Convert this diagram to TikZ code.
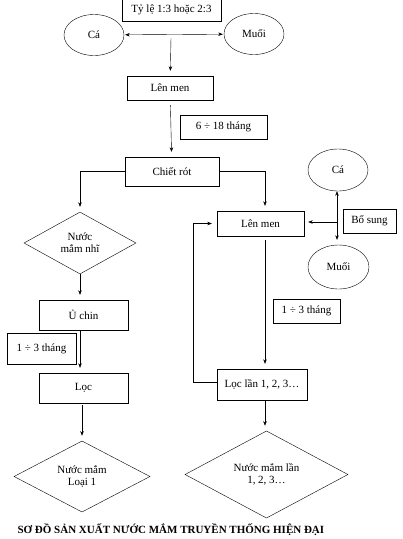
\documentclass[tikz,border=0pt]{standalone}
\usepackage{fontspec}
\setmainfont{Liberation Serif}
\usetikzlibrary{arrows.meta, positioning, shapes.geometric}

\begin{document}
\begin{tikzpicture}[
            x=1pt, y=-1pt,
            font=\fontsize{11pt}{12pt}\selectfont,
            stepbox/.style={draw, thin, rectangle, inner sep=2pt},
            input/.style={draw, thin, ellipse, minimum width=60pt, minimum height=41pt, inner sep=0pt},
            product/.style={draw, thin, diamond, inner sep=0pt, align=center},
            flow/.style={draw, thin, -{Stealth[length=4.5pt, width=3.5pt]}, shorten >=5pt},
            note/.style={stepbox, minimum height=24pt}
        ]

            \useasboundingbox (0,0) rectangle (403,539);

            % Top: raw materials
            \node[stepbox, minimum width=99pt, minimum height=23pt] (ratio) at (171.5,10) {Tỷ lệ 1:3 hoặc 2:3};
            \node[input] (ca1) at (94,35) {Cá};
            \node[input] (muoi1) at (254,34) {Muối};
            \coordinate (mix) at (171,38);

            % Main line
            \node[stepbox, minimum width=86pt, minimum height=24pt] (men1) at (170,88) {Lên men};
            \node[note, minimum width=87pt] (time1) at (223.5,127) {6 ÷ 18 tháng};
            \node[stepbox, minimum width=94pt, minimum height=29pt] (chiet) at (172,171.5) {Chiết rót};

            % Left branch
            \node[product, minimum width=112pt, minimum height=62pt] (nhi) at (80,243) {Nước\\mắm nhĩ};
            \node[stepbox, minimum width=89pt, minimum height=30pt] (uchin) at (83.5,315) {Ủ chin};
            \node[stepbox, minimum width=69pt, minimum height=31pt] (time2) at (41.5,348.5) {1 ÷ 3 tháng};
            \node[stepbox, minimum width=89pt, minimum height=30pt] (loc) at (83.5,388) {Lọc};
            \node[product, minimum width=136pt, minimum height=63pt] (loai1) at (82,476.5) {Nước mắm\\Loại 1};

            % Right branch
            \coordinate (right) at (265,171);
            \node[stepbox, minimum width=87pt, minimum height=25pt] (men2) at (260.5,223.5) {Lên men};
            \node[input, minimum height=42pt] (ca2) at (338,170) {Cá};
            \node[input, minimum width=61pt, minimum height=44pt] (muoi2) at (338.5,267) {Muối};
            \node[note, minimum width=53pt] (bosung) at (369.5,221) {Bổ sung};
            \node[note, minimum width=67pt] (time3) at (306.5,311) {1 ÷ 3 tháng};
            \node[stepbox, minimum width=90pt, minimum height=31pt] (loclan) at (262,384.5) {Lọc lần 1, 2, 3…};
            \node[product, minimum width=163pt, minimum height=65pt] (lan) at (266.5,474.5) {Nước mắm lần\\1, 2, 3…};

            % Arrows for main line
            \draw[flow, {Stealth[length=4.5pt, width=3.5pt]}-{Stealth[length=4.5pt, width=3.5pt]}, shorten <=1pt, shorten >=1pt] (ca1) -- (muoi1);
            \draw[flow] (mix) -- (men1);
            \draw[flow, shorten <=5pt] (men1) -- (chiet);
            \draw[flow] (chiet.west) -| (nhi.north);
            \draw[flow] (chiet.east) -| (men2.north -| right);

            % Arrows for left branch
            \draw[flow] (nhi.south) -- (nhi.south |- uchin.north);
            \draw[flow] (nhi.south |- uchin.south) -- (nhi.south |- loc.north);
            \draw[flow, shorten <=2pt] (loc.south -| loai1.north) -- (loai1.north);

            % Arrows for right branch
            \coordinate (back) at (193,382);
            \draw[flow] (loclan.west |- back) -- (back) |- (men2.west);
            \draw[flow, shorten <=4pt] (men2.south -| right) -- (loclan.north -| right);
            \draw[flow] (loclan.south -| right) -- (lan.north -| right);
            \draw[flow, {Stealth[length=4.5pt, width=3.5pt]}-{Stealth[length=4.5pt, width=3.5pt]}, shorten <=0pt] (ca2.south -| 337,0) -- (muoi2.north -| 337,0);
            \draw[flow, shorten >=4pt] (337,222) -- (men2.east |- 337,222);

            % Title
            \node[anchor=west, font=\fontsize{11pt}{12pt}\selectfont\bfseries] (title) at (14,530) {SƠ ĐỒ SẢN XUẤT NƯỚC MẮM TRUYỀN THỐNG HIỆN ĐẠI};

        \end{tikzpicture}
\end{document}
